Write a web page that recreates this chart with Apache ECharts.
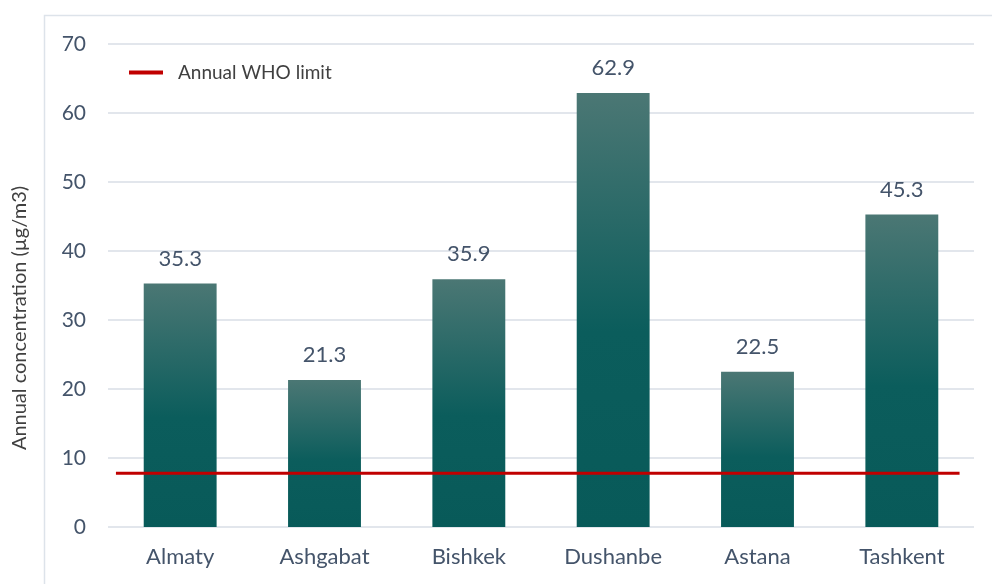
<!DOCTYPE html>
<html>
<head>
<meta charset="utf-8">
<script src="https://cdn.jsdelivr.net/npm/echarts@6/dist/echarts.min.js"></script>
<style>
  html, body { margin: 0; padding: 0; background: #ffffff; }
  #chart { width: 992px; height: 584px; }
</style>
</head>
<body>
<div id="chart"></div>
<script>
// Annual PM2.5 concentration by Central Asian city
const cities = ['Almaty', 'Ashgabat', 'Bishkek', 'Dushanbe', 'Astana', 'Tashkent'];
const concentration = [35.3, 21.3, 35.9, 62.9, 22.5, 45.3];

// WHO annual limit, drawn as a horizontal reference line across the cities
const whoLimit = 7.8;
const whoLineSpan = [-0.445, 5.4]; // category-index extent of the limit line

const yTicks = { min: 0, max: 70, interval: 10 };

const FONT = 'Lato, "Noto Sans", sans-serif';
const TEXT = '#44546a';

const chart = echarts.init(document.getElementById('chart'), null, { renderer: 'canvas' });

chart.setOption({
  animation: false,
  backgroundColor: '#ffffff',
  textStyle: { fontFamily: FONT },
  graphic: [
    {
      type: 'rect',
      shape: { x: 44.5, y: 15.5, width: 1000, height: 600 },
      style: { fill: 'none', stroke: '#dde3ea', lineWidth: 1.5 },
      silent: true,
      z: -10
    },
    {
      type: 'text',
      x: 20, y: 318,
      rotation: Math.PI / 2,
      style: {
        text: 'Annual concentration (µg/m3)',
        fontFamily: FONT, fontSize: 20, fill: '#404040',
        align: 'center', verticalAlign: 'middle'
      }
    }
  ],
  legend: {
    data: ['Annual WHO limit'],
    left: 124, top: 58,
    icon: 'rect', itemWidth: 34, itemHeight: 4, itemGap: 10,
    textStyle: { fontFamily: FONT, fontSize: 19, color: '#404040', padding: [0, 0, 0, 10] }
  },
  grid: { left: 108, right: 18, top: 44, bottom: 57, containLabel: false },
  xAxis: [
    {
      type: 'category',
      data: cities,
      axisLine: { show: false },
      axisTick: { show: false },
      axisLabel: { fontFamily: FONT, fontSize: 22, color: TEXT, margin: 19 }
    },
    {
      type: 'value',
      min: -0.5, max: cities.length - 0.5,
      show: false
    }
  ],
  yAxis: {
    type: 'value',
    min: yTicks.min, max: yTicks.max, interval: yTicks.interval,
    axisLine: { show: false },
    axisTick: { show: false },
    axisLabel: { fontFamily: FONT, fontSize: 21, color: TEXT, margin: 22 },
    splitLine: { lineStyle: { color: '#e2e6ec', width: 2 } }
  },
  series: [
    {
      name: 'Concentration',
      type: 'bar',
      data: concentration,
      barWidth: '50.5%',
      itemStyle: {
        color: new echarts.graphic.LinearGradient(0, 0, 0, 1, [
          { offset: 0, color: '#4b7774' },
          { offset: 0.55, color: '#0b5d5c' },
          { offset: 1, color: '#085a59' }
        ])
      },
      label: {
        show: true, position: 'top', distance: 14,
        fontFamily: FONT, fontSize: 22, color: TEXT,
        formatter: p => p.value.toFixed(1)
      },
      z: 2
    },
    {
      name: 'Annual WHO limit',
      type: 'line',
      xAxisIndex: 1,
      data: [[whoLineSpan[0], whoLimit], [whoLineSpan[1], whoLimit]],
      symbol: 'none',
      lineStyle: { color: '#c00000', width: 3 },
      itemStyle: { color: '#c00000' },
      z: 5
    }
  ]
});
</script>
</body>
</html>
